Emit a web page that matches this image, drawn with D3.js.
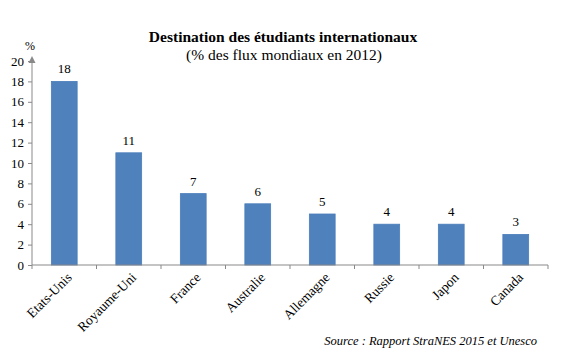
<!DOCTYPE html>
<html>
<head>
<meta charset="utf-8">
<script src="https://d3js.org/d3.v7.min.js"></script>
<style>
  body { margin: 0; background: #fff; }
  text { font-family: "Liberation Serif", "DejaVu Serif", serif; fill: #000; }
</style>
</head>
<body>
<div id="chart"></div>
<script>
var categories = ["Etats-Unis", "Royaume-Uni", "France", "Australie", "Allemagne", "Russie", "Japon", "Canada"];
var values = [18, 11, 7, 6, 5, 4, 4, 3];
var yTicks = [0, 2, 4, 6, 8, 10, 12, 14, 16, 18, 20];

var width = 576, height = 362;
var plotLeft = 32, plotRight = 548, plotTop = 61, plotBottom = 265;

var svg = d3.select("#chart").append("svg")
    .attr("width", width)
    .attr("height", height);

var x = d3.scaleBand().domain(categories).range([plotLeft, plotRight]).paddingInner(0.6).paddingOuter(0.3);
var y = d3.scaleLinear().domain([0, 20]).range([plotBottom, plotTop]);

// titles
svg.append("text").attr("x", 283).attr("y", 42).attr("text-anchor", "middle")
    .style("font-size", "15.5px").style("font-weight", "bold")
    .text("Destination des étudiants internationaux");
svg.append("text").attr("x", 284).attr("y", 60).attr("text-anchor", "middle")
    .style("font-size", "15.5px")
    .text("(% des flux mondiaux en 2012)");

// bars
svg.selectAll(".bar").data(values).enter().append("rect")
    .attr("x", function(d, i) { return x(categories[i]); })
    .attr("y", function(d) { return y(d); })
    .attr("width", x.bandwidth())
    .attr("height", function(d) { return y(0) - y(d); })
    .attr("fill", "#4F81BD")
    .attr("stroke", "#4A7EBB")
    .attr("stroke-width", 0.8);

// value labels
svg.selectAll(".val").data(values).enter().append("text")
    .attr("x", function(d, i) { return x(categories[i]) + x.bandwidth() / 2; })
    .attr("y", function(d) { return y(d) - 8; })
    .attr("text-anchor", "middle")
    .style("font-size", "13px")
    .text(function(d) { return d; });

// y axis
var yAxis = svg.append("g").attr("transform", "translate(" + plotLeft + ",0)")
    .call(d3.axisLeft(y).tickValues(yTicks).tickSize(4).tickPadding(4));
yAxis.select(".domain").remove();
yAxis.append("line").attr("x1", 0).attr("x2", 0).attr("y1", plotBottom).attr("y2", plotTop - 2)
    .attr("stroke", "#898989");
yAxis.append("path").attr("d", "M-3.5," + (plotTop + 2) + "L0," + (plotTop - 5) + "L3.5," + (plotTop + 2) + "Z")
    .attr("fill", "#898989");
yAxis.selectAll(".tick line").attr("stroke", "#898989");
yAxis.selectAll(".tick text").style("font-size", "13px")
    .style("font-family", "'Liberation Serif', serif").attr("fill", "#000");

svg.append("text").attr("x", 30).attr("y", 50).attr("text-anchor", "middle")
    .style("font-size", "12px").text("%");

// x axis
var xAxis = svg.append("g").attr("transform", "translate(0," + plotBottom + ")");
xAxis.append("line").attr("x1", plotLeft).attr("x2", plotRight).attr("y1", 0).attr("y2", 0)
    .attr("stroke", "#898989");
var step = (plotRight - plotLeft) / categories.length;
xAxis.selectAll(".xt").data(d3.range(categories.length + 1)).enter().append("line")
    .attr("x1", function(d) { return plotLeft + d * step; })
    .attr("x2", function(d) { return plotLeft + d * step; })
    .attr("y1", 0).attr("y2", 4).attr("stroke", "#898989");
xAxis.selectAll(".xl").data(categories).enter().append("text")
    .attr("transform", function(d) {
        return "translate(" + (x(d) + x.bandwidth() / 2 + 5) + ",10) rotate(-45)";
    })
    .attr("text-anchor", "end")
    .attr("dy", "0.35em")
    .style("font-size", "13.5px")
    .text(function(d) { return d; });

// source
svg.append("text").attr("x", 537).attr("y", 345).attr("text-anchor", "end")
    .style("font-size", "12.5px").style("font-style", "italic")
    .text("Source : Rapport StraNES 2015 et Unesco");
</script>
</body>
</html>
